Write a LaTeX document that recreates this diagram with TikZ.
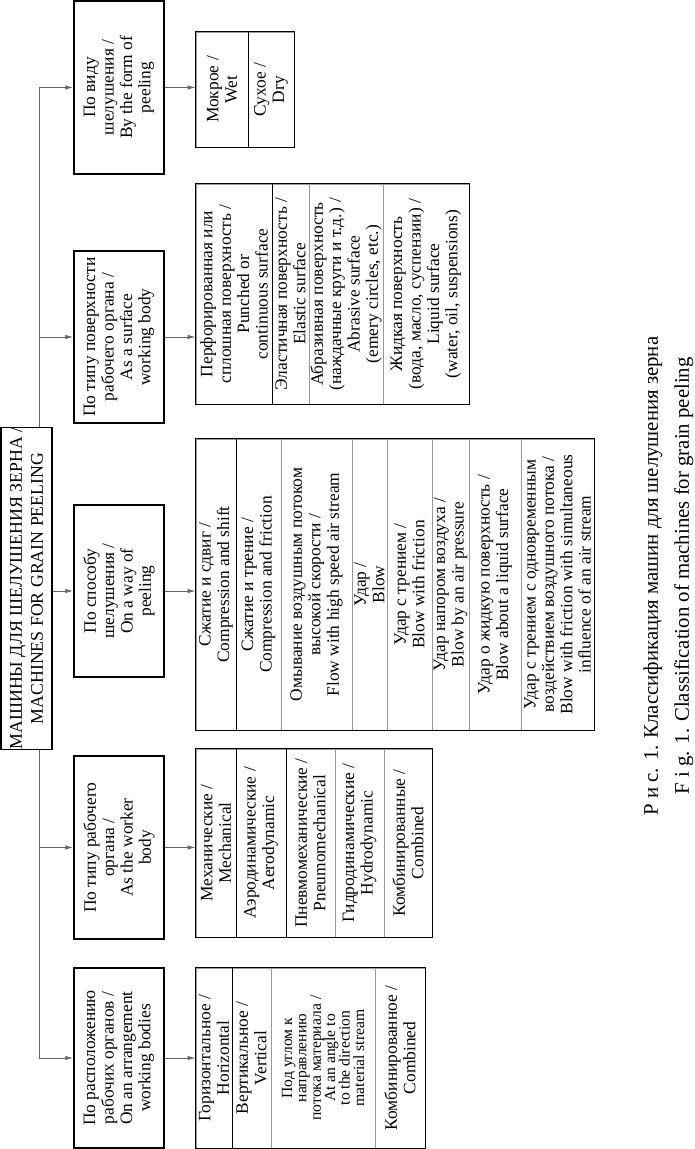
\documentclass[tikz,border=0pt]{standalone}
\usepackage{fontspec}
\setmainfont{Liberation Serif}
\usepackage{tikz}
\usetikzlibrary{arrows.meta, positioning}

\newcommand{\bodyfont}{\fontsize{17.4}{18.4}\selectfont}
\newcommand{\tightfont}{\fontsize{15.6}{14.4}\selectfont}
\newcommand{\rootfont}{\fontsize{17.8}{21}\selectfont}
\newcommand{\capfont}{\fontsize{20.8}{31}\selectfont}

\begin{document}
\begin{tikzpicture}[x=1pt, y=-1pt,
  catbox/.style={draw, line width=1.5pt, rotate=90, align=center, inner sep=0pt,
                 minimum height=90pt, font=\bodyfont},
  cell/.style 2 args={draw=black!40, line width=0.8pt, rotate=90, align=center,
                      inner sep=0pt, minimum width=#1, minimum height=#2, font=\bodyfont},
  frame/.style={line width=1.5pt},
  link/.style={draw=black!60, line width=0.9pt},
  arr/.style={link, -{Latex[length=8pt, width=4.5pt]}}
]
  \useasboundingbox (0,0) rectangle (695,1149);

  % classification features
  \node[catbox, minimum width=173pt] (form)    at (119, 87.5) {По виду\\шелушения /\\By the form of\\peeling};
  \node[catbox, minimum width=172pt] (surf)    at (119, 337)  {По типу поверхности\\рабочего органа /\\As a surface\\working body};
  \node[catbox, minimum width=172pt] (way)     at (119, 591)  {По способу\\шелушения /\\On a way of\\peeling};
  \node[catbox, minimum width=183pt] (body)    at (119, 847.5){По типу рабочего\\органа /\\As the worker\\body};
  \node[catbox, minimum width=180pt] (arrange) at (119, 1058) {По расположению\\рабочих органов /\\On an arrangement\\working bodies};

  % trunk, then the root box over it
  \coordinate (spine) at (39, 0);
  \draw[link] (spine |- form.north) -- (spine |- arrange.north);
  \node[catbox, fill=white, font=\rootfont, minimum width=319pt, minimum height=51pt]
    (root) at (26.5, 588.5) {МАШИНЫ ДЛЯ ШЕЛУШЕНИЯ ЗЕРНА /\\MACHINES FOR GRAIN PEELING};

  \draw[arr] (spine |- form.north) -- (form.north);
  \draw[arr] (spine |- surf.north) -- (surf.north);
  \draw[arr] (root.south |- way.north) -- (way.north);
  \draw[arr] (spine |- body.north) -- (body.north);
  \draw[arr] (spine |- arrange.north) -- (arrange.north);

  % form of peeling
  \node[cell={115pt}{52pt}] (wet) at (222, 89.5) {Мокрое /\\Wet};
  \node[cell={115pt}{46pt}] (dry) at (271, 89.5) {Сухое /\\Dry};
  \draw[frame] (wet.north west) rectangle (dry.south east);
  \draw[frame] (wet.south west) -- (wet.south east);

  % surface of the working body
  \node[cell={220pt}{76pt}] (s1) at (234, 294)   {Перфорированная или\\сплошная поверхность /\\Punched or\\continuous surface};
  \node[cell={220pt}{37pt}] (s2) at (290.5, 294) {Эластичная поверхность /\\Elastic surface};
  \node[cell={220pt}{74pt}] (s3) at (346, 294)   {Абразивная поверхность\\(наждачные круги и т.д.) /\\Abrasive surface\\(emery circles, etc.)};
  \node[cell={220pt}{86pt}] (s4) at (426, 294)   {Жидкая поверхность\\(вода, масло, суспензии) /\\Liquid surface\\(water, oil, suspensions)};
  \draw[frame] (s1.north west) rectangle (s4.south east);
  \draw[frame] (s1.south west) -- (s1.south east);

  % way of peeling
  \node[cell={291pt}{40pt}] (w1) at (216, 584.5)   {Сжатие и сдвиг /\\Compression and shift};
  \node[cell={291pt}{45pt}] (w2) at (258.5, 584.5) {Сжатие и трение /\\Compression and friction};
  \node[cell={291pt}{71pt}] (w3) at (316.5, 584.5) {Омывание воздушным потоком\\высокой скорости /\\Flow with high speed air stream};
  \node[cell={291pt}{35pt}] (w4) at (369.5, 584.5) {Удар /\\Blow};
  \node[cell={291pt}{45pt}] (w5) at (409.5, 584.5) {Удар с трением /\\Blow with friction};
  \node[cell={291pt}{37pt}] (w6) at (450.5, 584.5) {Удар напором воздуха /\\Blow by an air pressure};
  \node[cell={291pt}{52pt}] (w7) at (495, 584.5)   {Удар о жидкую поверхность /\\Blow about a liquid surface};
  \node[cell={291pt}{73pt}] (w8) at (557.5, 584.5) {Удар с трением с одновременным\\воздействием воздушного потока /\\Blow with friction with simultaneous\\influence of an air stream};
  \draw[frame] (w1.north west) rectangle (w8.south east);
  \draw[frame] (w1.south west) -- (w1.south east);

  % type of the working body
  \node[cell={188pt}{40pt}] (b1) at (216, 843)   {Механические /\\Mechanical};
  \node[cell={188pt}{50pt}] (b2) at (261, 843)   {Аэродинамические /\\Aerodynamic};
  \node[cell={188pt}{49pt}] (b3) at (310.5, 843) {Пневмомеханические /\\Pneumomechanical};
  \node[cell={188pt}{49pt}] (b4) at (359.5, 843) {Гидродинамические /\\Hydrodynamic};
  \node[cell={188pt}{48pt}] (b5) at (408, 843)   {Комбинированные /\\Combined};
  \draw[frame] (b1.north west) rectangle (b5.south east);
  \draw[frame] (b1.south west) -- (b1.south east);
  \draw[frame] (b2.south west) -- (b2.south east);

  % arrangement of the working bodies
  \node[cell={180pt}{36pt}] (a1) at (214, 1058)   {Горизонтальное /\\Horizontal};
  \node[cell={180pt}{39pt}] (a2) at (251.5, 1058) {Вертикальное /\\Vertical};
  \node[cell={180pt}{104pt}, font=\tightfont] (a3) at (323, 1058) {Под углом к\\направлению\\потока материала /\\At an angle to\\to the direction\\material stream};
  \node[cell={180pt}{50pt}] (a4) at (400, 1058)   {Комбинированное /\\Combined};
  \draw[frame] (a1.north west) rectangle (a4.south east);
  \draw[frame] (a1.south west) -- (a1.south east);

  \draw[arr] (form.south) -- (form.south -| wet.north);
  \draw[arr] (surf.south) -- (surf.south -| s1.north);
  \draw[arr] (way.south) -- (way.south -| w1.north);
  \draw[arr] (body.south) -- (body.south -| b1.north);
  \draw[arr] (arrange.south) -- (arrange.south -| a1.north);

  % caption
  \node[rotate=90, align=center, font=\capfont] (caption) at (668.5, 576)
    {Р и с. 1. Классификация машин для шелушения зерна\\F i g. 1. Classification of machines for grain peeling};
\end{tikzpicture}
\end{document}
